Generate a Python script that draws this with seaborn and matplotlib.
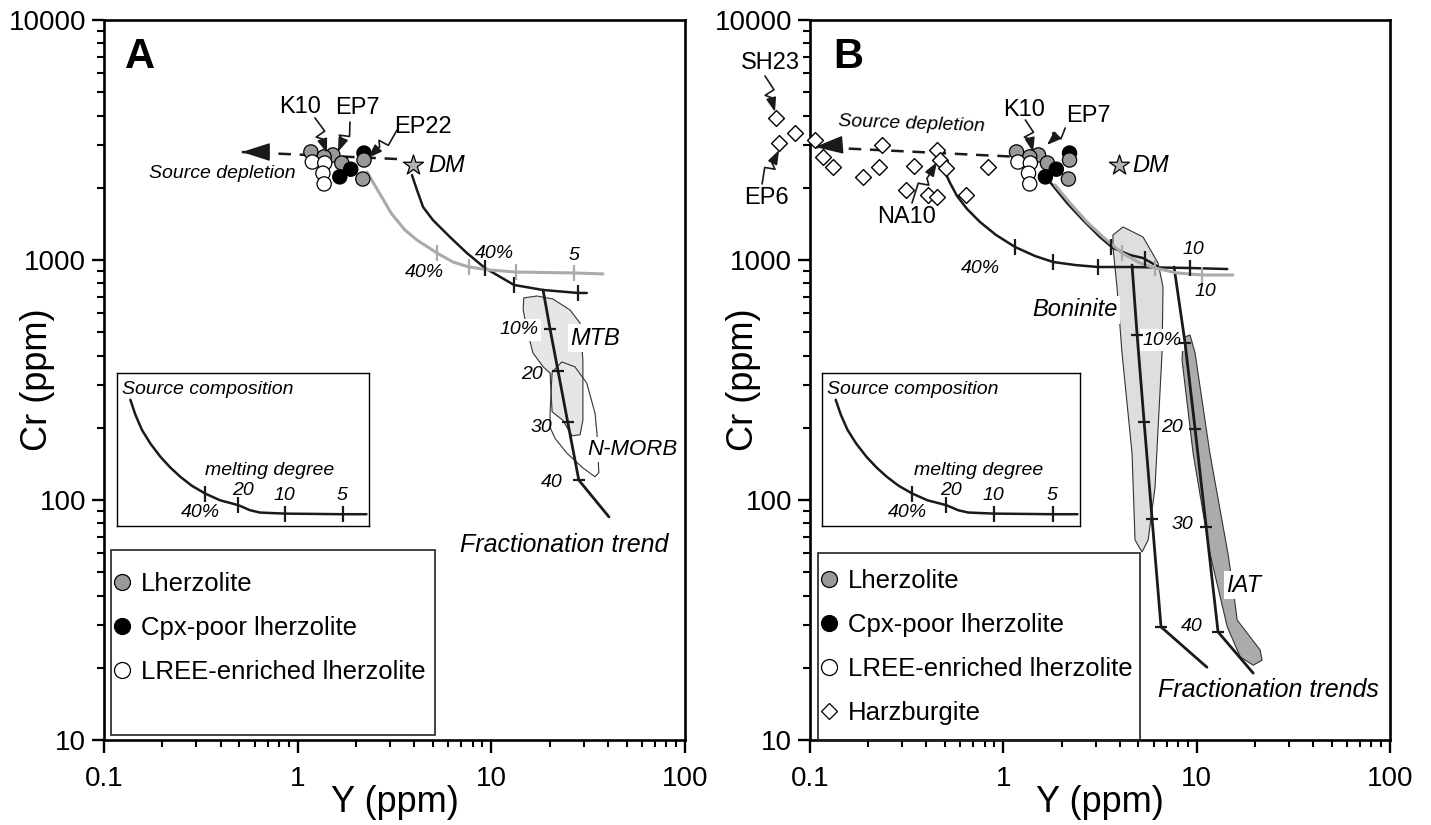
import numpy as np
import pandas as pd
import matplotlib
matplotlib.use("Agg")
import matplotlib.pyplot as plt
import seaborn as sns
from matplotlib.lines import Line2D
from matplotlib.patches import Rectangle
from matplotlib.ticker import LogLocator, NullFormatter, FixedLocator, FixedFormatter

# ---------------- data ----------------
# peridotite samples (same in both panels)
lith = ["Cpx-poor lherzolite", "Lherzolite", "Lherzolite", "Lherzolite", "Lherzolite",
        "Lherzolite", "Lherzolite", "Cpx-poor lherzolite", "Cpx-poor lherzolite",
        "LREE-enriched lherzolite", "LREE-enriched lherzolite",
        "LREE-enriched lherzolite", "LREE-enriched lherzolite"]
lith_Y = [2.20, 1.17, 1.52, 1.37, 2.20, 2.17, 1.69, 1.88, 1.65, 1.19, 1.38, 1.35, 1.37]
lith_Cr = [2790, 2820, 2740, 2690, 2610, 2175, 2535, 2390, 2220, 2560, 2535, 2300, 2075]

# harzburgites (panel B)
harz_Y = [0.0667, 0.0836, 0.0692, 0.106, 0.117, 0.1315, 0.188, 0.2275, 0.236, 0.345,
          0.314, 0.408, 0.454, 0.454, 0.4705, 0.505, 0.641, 0.834]
harz_Cr = [3910, 3380, 3070, 3160, 2685, 2440, 2220, 2440, 3015, 2465,
           1960, 1865, 1830, 2875, 2610, 2415, 1865, 2440]

# depleted mantle
dm_Y = [3.95]
dm_Cr = [2480]

# ---- panel A model curves ----
meltA_blk_Y = [3.89, 4.13, 4.44, 4.99, 6.11, 7.48, 9.27, 13.1, 18.5, 28.0, 31.1]
meltA_blk_Cr = [2259, 1958, 1663, 1468, 1247, 1069, 926, 787, 750, 729, 729]
meltA_blk_tick_Y = [9.27, 13.1, 28.0]
meltA_blk_tick_Cr = [926, 787, 729]
meltA_gry_Y = [2.28, 2.50, 2.75, 3.05, 3.58, 4.13, 5.24, 6.34, 7.66, 9.84, 13.4, 26.7, 37.7]
meltA_gry_Cr = [2326, 2050, 1800, 1560, 1334, 1211, 1069, 981, 935, 908, 891, 883, 875]
meltA_gry_tick_Y = [5.24, 7.66, 13.4, 26.7]
meltA_gry_tick_Cr = [1069, 935, 891, 883]
fracA_Y = [18.5, 20.1, 22.1, 24.8, 28.3, 40.5]
fracA_Cr = [750, 516, 345, 211, 121, 85]
deplA_Y = [3.26, 0.515]
deplA_Cr = [2635, 2818]

mtb_Y = [14.7, 17.2, 20.8, 25.5, 28.7, 29.7, 29.7, 28.7, 26.1, 23.4, 20.6, 20.1, 18.5, 16.4, 15.3, 14.6]
mtb_Cr = [695, 708, 688, 619, 546, 383, 215, 187, 185, 215, 233, 338, 359, 410, 511, 619]
nmorb_Y = [20.1, 20.6, 23.1, 27.0, 31.1, 34.3, 35.1, 35.9, 34.3, 29.7, 24.5, 21.3, 20.1]
nmorb_Cr = [230, 341, 376, 359, 307, 230, 190, 130, 125, 136, 157, 181, 201]

# ---- panel B model curves ----
meltB1_Y = [0.499, 0.530, 0.576, 0.649, 0.758, 0.917, 1.15, 1.459, 1.81, 2.35, 3.09, 4.58, 9.24, 14.4]
meltB1_Cr = [2326, 2094, 1848, 1632, 1439, 1271, 1133, 1039, 981, 953, 935, 935, 926, 917]
meltB1_tick_Y = [1.15, 1.81, 3.09, 9.24]
meltB1_tick_Cr = [1133, 981, 935, 926]
meltB2_Y = [1.744, 2.136, 2.58, 3.16, 3.69, 4.52, 5.28, 6.24]
meltB2_Cr = [2113, 1728, 1468, 1247, 1122, 1049, 1019, 944]
meltB2_tick_Y = [3.6, 5.4]
meltB2_tick_Cr = [1130, 1012]
meltB_gry_Y = [1.85, 2.21, 2.71, 3.28, 4.11, 5.09, 6.09, 7.92, 10.7, 15.4]
meltB_gry_Cr = [2054, 1728, 1439, 1247, 1069, 972, 926, 883, 866, 866]
meltB_gry_tick_Y = [4.11, 6.09, 10.7]
meltB_gry_tick_Cr = [1069, 926, 866]
fracBon_Y = [4.63, 4.92, 5.35, 5.88, 6.54, 11.3]
fracBon_Cr = [953, 487, 211, 83.4, 29.6, 20.1]
fracIAT_Y = [7.64, 8.71, 9.81, 11.2, 12.9, 19.6]
fracIAT_Cr = [935, 451, 198, 77.2, 28.2, 19.0]
deplB_Y = [1.08, 0.106]
deplB_Cr = [2700, 2958]

bon_Y = [3.69, 4.16, 5.28, 6.31, 6.70, 6.62, 6.09, 5.61, 5.22, 4.80, 4.63, 4.11, 3.87, 3.69]
bon_Cr = [1271, 1373, 1247, 972, 772, 410, 113, 68.1, 60.7, 68.1, 157, 410, 772, 1133]
iat_Y = [8.71, 9.24, 9.81, 11.7, 14.5, 15.4, 16.2, 21.3, 21.8, 19.6, 16.8, 14.4, 11.7, 9.58, 8.40, 8.50]
iat_Cr = [478, 487, 410, 157, 60.1, 43.4, 31.6, 23.7, 21.5, 20.5, 22.2, 29.6, 60.1, 157, 383, 464]

# schematic inset curve (unitless)
inset_u = [0.053, 0.073, 0.099, 0.132, 0.172, 0.211, 0.251, 0.297, 0.350, 0.409,
           0.482, 0.528, 0.567, 0.666, 0.897, 0.99]
inset_v = [0.825, 0.727, 0.628, 0.540, 0.453, 0.383, 0.322, 0.263, 0.212, 0.168,
           0.136, 0.103, 0.088, 0.081, 0.077, 0.077]
inset_tick_u = [0.350, 0.482, 0.666, 0.897]
inset_tick_v = [0.212, 0.136, 0.081, 0.077]

x_ticks = [0.1, 1, 10, 100]
x_tick_labels = ["0.1", "1", "10", "100"]
y_ticks = [10, 100, 1000, 10000]
y_tick_labels = ["10", "100", "1000", "10000"]

lith_order = ["Lherzolite", "Cpx-poor lherzolite", "LREE-enriched lherzolite"]
lith_colors = {"Lherzolite": "#999999", "Cpx-poor lherzolite": "#000000",
               "LREE-enriched lherzolite": "#ffffff"}

# ---------------- style ----------------
sns.set_theme(style="ticks")
plt.rcParams["font.family"] = ["Liberation Sans", "DejaVu Sans"]
plt.rcParams["axes.edgecolor"] = "black"
plt.rcParams["xtick.color"] = "black"
plt.rcParams["ytick.color"] = "black"
plt.rcParams["text.color"] = "black"
plt.rcParams["axes.labelcolor"] = "black"

W, H = 1431, 825
fig = plt.figure(figsize=(W / 100, H / 100), dpi=100)


def rect(l, t, r, b):
    return [l / W, 1 - b / H, (r - l) / W, (b - t) / H]


axA = fig.add_axes(rect(104, 20, 685, 740))
axB = fig.add_axes(rect(810, 20, 1390, 740))


def setup(ax):
    ax.set_xscale("log")
    ax.set_yscale("log")
    ax.set_xlim(0.1, 100)
    ax.set_ylim(10, 10000)
    ax.xaxis.set_major_locator(FixedLocator(x_ticks))
    ax.xaxis.set_major_formatter(FixedFormatter(x_tick_labels))
    ax.yaxis.set_major_locator(FixedLocator(y_ticks))
    ax.yaxis.set_major_formatter(FixedFormatter(y_tick_labels))
    ax.xaxis.set_minor_locator(LogLocator(base=10, subs=range(2, 10)))
    ax.yaxis.set_minor_locator(LogLocator(base=10, subs=range(2, 10)))
    ax.xaxis.set_minor_formatter(NullFormatter())
    ax.yaxis.set_minor_formatter(NullFormatter())
    ax.tick_params(which="major", direction="out", length=9, width=1.7,
                   labelsize=20, top=False, right=False)
    ax.tick_params(which="minor", direction="out", length=5, width=1.5,
                   top=False, right=False)
    ax.tick_params(axis="x", which="major", pad=10)
    ax.tick_params(axis="y", which="major", pad=4)
    for s in ax.spines.values():
        s.set_visible(True)
        s.set_linewidth(1.9)
        s.set_color("black")
    ax.set_facecolor("white")


def labels(ax):
    ax.set_xlabel("Y (ppm)", fontsize=26)
    ax.set_ylabel("Cr (ppm)", fontsize=26)
    ax.xaxis.set_label_coords(0.5, -0.062)
    ax.yaxis.set_label_coords(-0.085, 0.5)


setup(axA)
setup(axB)

df = pd.DataFrame({"Y": lith_Y, "Cr": lith_Cr, "type": lith})


def line(ax, xs, ys, color="k", lw=1.8, ls="-", z=3, clip=True):
    sns.lineplot(x=xs, y=ys, sort=False, estimator=None, color=color, lw=lw,
                 ls=ls, ax=ax, zorder=z, clip_on=clip)


def ticks(ax, xs, ys, marker="|", color="k", ms=12):
    ax.plot(xs, ys, ls="none", marker=marker, ms=ms, mew=1.6, color=color, zorder=3.5)


def txt(ax, x, y, s, size=14, style="italic", ha="center", va="center", bg=False,
        z=7, **kw):
    bbox = dict(facecolor="white", edgecolor="none", pad=1.5) if bg else None
    ax.text(x, y, s, fontsize=size, fontstyle=style, ha=ha, va=va, bbox=bbox,
            zorder=z, **kw)


def zigzag(ax, start, end, amp=5):
    T = ax.transData
    p0 = np.array(T.transform(start))
    p1 = np.array(T.transform(end))
    d = p1 - p0
    L = np.hypot(*d)
    u = d / L
    n = np.array([-u[1], u[0]])
    pts = np.array([p0, p0 + 0.42 * d + amp * n, p0 + 0.50 * d - amp * n, p0 + 0.6 * d])
    dat = T.inverted().transform(pts)
    ax.plot(dat[:, 0], dat[:, 1], color="k", lw=1.2, zorder=8, clip_on=False)
    ax.annotate("", xy=end, xytext=tuple(dat[-1]),
                arrowprops=dict(arrowstyle="-|>,head_length=0.7,head_width=0.25",
                                mutation_scale=12, color="k", lw=1.2,
                                shrinkA=0, shrinkB=0),
                annotation_clip=False, zorder=8)


def samples(ax):
    sns.scatterplot(data=df, x="Y", y="Cr", hue="type", palette=lith_colors,
                    hue_order=lith_order, s=105, edgecolor="black", linewidth=0.9,
                    legend=False, ax=ax, zorder=5)
    sns.scatterplot(x=dm_Y, y=dm_Cr, marker="*", s=230, color="#b3b3b3",
                    edgecolor="black", linewidth=0.9, ax=ax, zorder=5)
    labels(ax)


def depletion(ax, xs, ys, head_base):
    line(ax, xs, ys, lw=1.8, ls=(0, (5, 3.5)), z=3, clip=False)
    ax.annotate("", xy=(xs[-1], ys[-1]), xytext=head_base,
                arrowprops=dict(arrowstyle="-|>,head_length=1.0,head_width=0.32",
                                mutation_scale=18, color="k", lw=1,
                                shrinkA=0, shrinkB=0),
                annotation_clip=False, zorder=6)


def inset(fig_rect):
    ai = fig.add_axes(fig_rect)
    ai.set_xlim(0, 1)
    ai.set_ylim(0, 1)
    ai.set_xticks([])
    ai.set_yticks([])
    for s in ai.spines.values():
        s.set_visible(True)
        s.set_linewidth(1.0)
        s.set_color("black")
    sns.lineplot(x=inset_u, y=inset_v, sort=False, estimator=None, color="k",
                 lw=1.8, ax=ai)
    ai.plot(inset_tick_u, inset_tick_v, ls="none", marker="|", ms=11, mew=1.6, color="k")
    ai.set_xlabel("")
    ai.set_ylabel("")
    ai.text(0.02, 0.89, "Source composition", fontsize=14, fontstyle="italic",
            ha="left", va="center")
    ai.text(0.607, 0.365, "melting degree", fontsize=14, fontstyle="italic",
            ha="center", va="center")
    for (u, v, s) in [(0.33, 0.09, "40%"), (0.50, 0.235, "20"), (0.666, 0.20, "10"),
                      (0.893, 0.20, "5")]:
        ai.text(u, v, s, fontsize=14, fontstyle="italic", ha="center", va="center")
    return ai


def legend_box(ax, x0, y0, w, h, anchor, with_harz):
    ax.add_patch(Rectangle((x0, y0), w, h, transform=ax.transAxes, fill=False,
                           edgecolor="#222222", lw=1.2, zorder=9, clip_on=False))
    handles = [Line2D([], [], ls="none", marker="o", markersize=11.5,
                      markerfacecolor=lith_colors[k], markeredgecolor="black",
                      markeredgewidth=0.9) for k in lith_order]
    labs = list(lith_order)
    if with_harz:
        handles.append(Line2D([], [], ls="none", marker="D", markersize=8,
                              markerfacecolor="white", markeredgecolor="black",
                              markeredgewidth=0.9))
        labs.append("Harzburgite")
    leg = ax.legend(handles, labs, loc="upper left", bbox_to_anchor=anchor,
                    frameon=False, fontsize=18.5, handlelength=0.85, handletextpad=0.3,
                    labelspacing=0.78, borderpad=0, borderaxespad=0)
    leg.set_zorder(10)


# ======================= PANEL A =======================
ax = axA
ax.fill(mtb_Y, mtb_Cr, facecolor="#e6e6e6", edgecolor="#333333", lw=0.8, zorder=1)
ax.fill(nmorb_Y, nmorb_Cr, facecolor="none", edgecolor="#333333", lw=0.8, zorder=1.5)
line(ax, meltA_blk_Y, meltA_blk_Cr)
ticks(ax, meltA_blk_tick_Y, meltA_blk_tick_Cr)
line(ax, meltA_gry_Y, meltA_gry_Cr, color="#aaaaaa", lw=2.2, z=3.2)
ticks(ax, meltA_gry_tick_Y, meltA_gry_tick_Cr, color="#aaaaaa")
line(ax, fracA_Y, fracA_Cr, lw=2.0)
ticks(ax, fracA_Y[1:5], fracA_Cr[1:5], marker="_", ms=9)
depletion(ax, deplA_Y, deplA_Cr, (0.662, 2818))
samples(ax)

txt(ax, 0.98, 2304, "Source depletion", size=14, ha="right")
txt(ax, 4.71, 2480, "DM", size=17, ha="left")
txt(ax, 4.54, 891, "40%", size=14)
txt(ax, 10.4, 1069, "40%", size=14)
txt(ax, 26.7, 1040, "5", size=14)
txt(ax, 13.9, 511, "10%", size=14, bg=True, z=2.5)
txt(ax, 16.2, 332, "20", size=14)
txt(ax, 18.2, 201, "30", size=14)
txt(ax, 20.6, 118, "40", size=14)
txt(ax, 34.3, 473, "MTB", size=17, bg=True, z=2.5)
txt(ax, 53.8, 162, "N-MORB", size=16, bg=True, z=2.5)
txt(ax, 23.7, 64.9, "Fractionation trend", size=18)
txt(ax, 1.028, 4340, "K10", size=17, style="normal")
txt(ax, 2.024, 4300, "EP7", size=17, style="normal")
txt(ax, 4.44, 3581, "EP22", size=17, style="normal")
ax.text(0.036, 0.949, "A", transform=ax.transAxes, fontsize=30, fontweight="bold",
        ha="left", va="center")
zigzag(ax, (1.228, 3908), (1.416, 2791))
zigzag(ax, (1.862, 3758), (1.614, 2818))
zigzag(ax, (3.26, 3481), (2.306, 2661))
legend_box(ax, 0.012, 0.007, 0.558, 0.257, (0.012, 0.234), False)
inset(rect(117, 373, 369, 526))

# ======================= PANEL B =======================
ax = axB
ax.fill(bon_Y, bon_Cr, facecolor="#dedede", edgecolor="#333333", lw=0.8, zorder=1)
ax.fill(iat_Y, iat_Cr, facecolor="#ababab", edgecolor="#333333", lw=0.8, zorder=1)
line(ax, meltB1_Y, meltB1_Cr)
ticks(ax, meltB1_tick_Y, meltB1_tick_Cr)
line(ax, meltB2_Y, meltB2_Cr)
ticks(ax, meltB2_tick_Y, meltB2_tick_Cr)
line(ax, meltB_gry_Y, meltB_gry_Cr, color="#aaaaaa", lw=2.2, z=3.2)
ticks(ax, meltB_gry_tick_Y, meltB_gry_tick_Cr, color="#aaaaaa")
line(ax, fracBon_Y, fracBon_Cr, lw=2.0)
ticks(ax, fracBon_Y[1:5], fracBon_Cr[1:5], marker="_", ms=9)
line(ax, fracIAT_Y, fracIAT_Cr, lw=2.0)
ticks(ax, fracIAT_Y[1:5], fracIAT_Cr[1:5], marker="_", ms=9)
depletion(ax, deplB_Y, deplB_Cr, (0.143, 3014))
sns.scatterplot(x=harz_Y, y=harz_Cr, marker="D", s=65, color="white",
                edgecolor="black", linewidth=1.0, ax=ax, zorder=5, clip_on=False)
samples(ax)

txt(ax, 0.1396, 3687, "Source depletion", size=14, ha="left", rotation=-2)
txt(ax, 4.65, 2480, "DM", size=17, ha="left")
txt(ax, 0.758, 926, "40%", size=14)
txt(ax, 9.58, 1101, "10", size=14)
txt(ax, 11.05, 736, "10", size=14)
txt(ax, 2.35, 619, "Boninite", size=17, bg=True, z=2.5)
txt(ax, 6.62, 464, "10%", size=14, bg=True, z=2.5)
txt(ax, 7.47, 201, "20", size=14)
txt(ax, 8.40, 79.4, "30", size=14)
txt(ax, 9.47, 29.6, "40", size=14)
txt(ax, 17.4, 44.2, "IAT", size=17, bg=True, z=2.5)
txt(ax, 23.4, 16.2, "Fractionation trends", size=18)
txt(ax, 0.0621, 6620, "SH23", size=17, style="normal")
txt(ax, 0.0592, 1811, "EP6", size=17, style="normal")
txt(ax, 0.3177, 1510, "NA10", size=17, style="normal")
txt(ax, 1.28, 4217, "K10", size=17, style="normal")
txt(ax, 2.74, 3981, "EP7", size=17, style="normal")
ax.text(0.040, 0.949, "B", transform=ax.transAxes, fontsize=30, fontweight="bold",
        ha="left", va="center")
zigzag(ax, (0.0585, 5846), (0.0659, 4140))
zigzag(ax, (0.0565, 2074), (0.0692, 2873))
zigzag(ax, (0.337, 1728), (0.454, 2560))
zigzag(ax, (1.30, 3831), (1.425, 2818))
zigzag(ax, (2.09, 3548), (1.68, 3014))
legend_box(ax, 0.0138, 0.0, 0.555, 0.26, (0.014, 0.238), True)
inset(rect(822, 373, 1080, 526))

fig.savefig("out.png", dpi=100, facecolor="white")
